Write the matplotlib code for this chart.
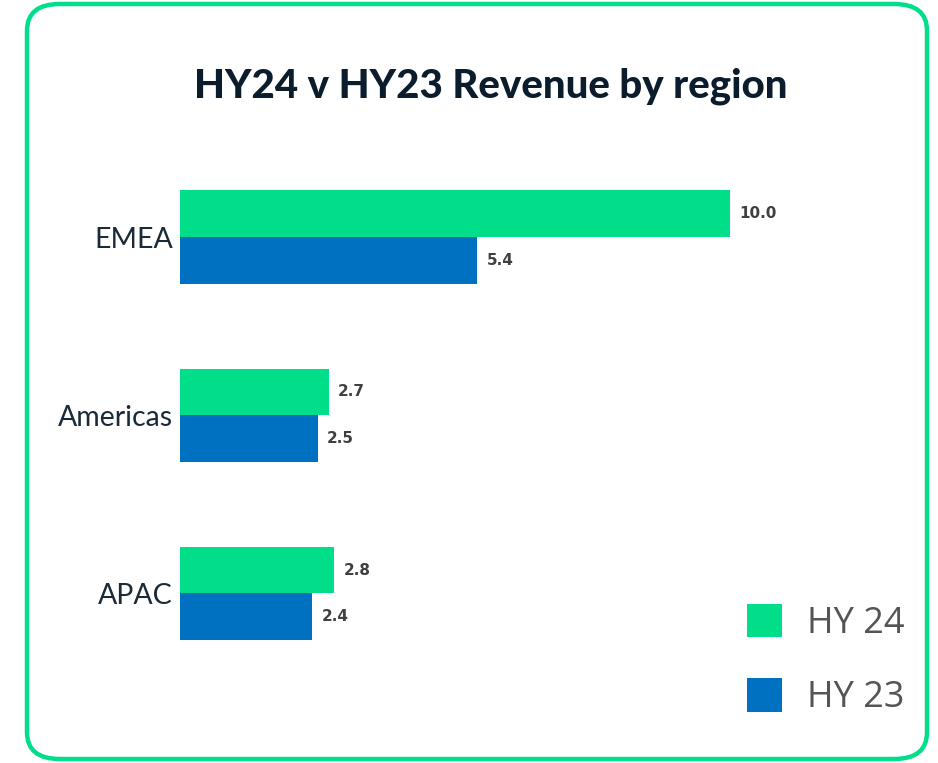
import numpy as np
import matplotlib.pyplot as plt
from matplotlib.patches import FancyBboxPatch, Patch

# data
regions = ['EMEA', 'Americas', 'APAC']
hy24 = [10.0, 2.7, 2.8]
hy23 = [5.4, 2.5, 2.4]
series_labels = ['HY 24', 'HY 23']

green = '#00DE89'
blue = '#0070C0'
W, H = 938, 763


def main():
    fig = plt.figure(figsize=(W / 100, H / 100), dpi=100)

    # rounded green frame
    frame = FancyBboxPatch((27 / W, 4 / H), 900 / W, 755 / H,
                           boxstyle='round,pad=0,rounding_size=0.035',
                           transform=fig.transFigure, facecolor='white',
                           edgecolor=green, linewidth=3.2, zorder=-5)
    fig.patches.append(frame)

    fig.text(491 / W, 1 - 86 / H, 'HY24 v HY23 Revenue by region',
             ha='center', va='center', fontsize=29, fontweight='black',
             family='Lato', color='#0B1C2C')

    # axes placed so that x=0 sits at 180 px and 55 px per unit
    top_px, bot_px = 148, 682.5
    ax = fig.add_axes([180 / W, 1 - bot_px / H, 660 / W, (bot_px - top_px) / H])
    ax.set_facecolor('none')
    ax.set_zorder(2)

    y = np.arange(len(regions))
    h = 0.262
    b1 = ax.barh(y - h / 2, hy24, height=h, color=green)
    b2 = ax.barh(y + h / 2, hy23, height=h, color=blue)

    for bars, vals in ((b1, hy24), (b2, hy23)):
        for bar, v in zip(bars, vals):
            ax.text(bar.get_width() + 0.17, bar.get_y() + bar.get_height() / 2,
                    f'{v:.1f}', va='center', ha='left', fontsize=11,
                    fontweight='bold', color='#404040', family='DejaVu Sans')

    ax.set_xlim(0, 12)
    ax.set_ylim(2.5, -0.5)
    ax.set_yticks(y)
    ax.set_yticklabels(regions, fontsize=20.5, family='Lato', fontweight='normal',
                       color='#1B2A38')
    ax.tick_params(axis='y', length=0, pad=5)
    ax.set_xticks([])
    for s in ax.spines.values():
        s.set_visible(False)

    handles = [Patch(facecolor=green), Patch(facecolor=blue)]
    fig.legend(handles, series_labels, loc='center left',
               bbox_to_anchor=(714 / W, 1 - 660 / H), frameon=False,
               handlelength=0.97, handleheight=1.05,
               handletextpad=0.7, labelspacing=1.0, labelcolor='#555555',
               prop={'family': 'Open Sans', 'size': 26})

    fig.savefig('out.png', dpi=100)
    plt.close(fig)


if __name__ == "__main__":
    main()
